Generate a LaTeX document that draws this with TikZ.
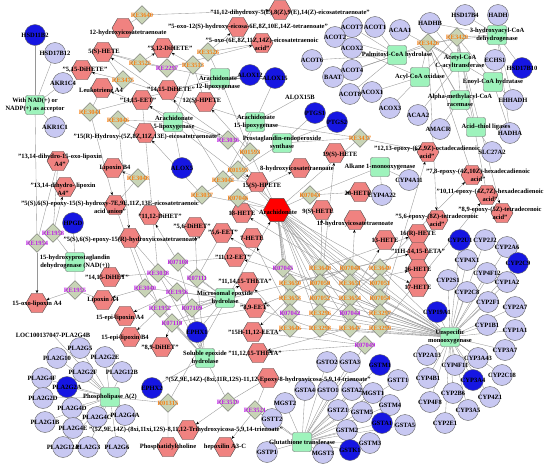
\documentclass[tikz,border=0pt]{standalone}
\usepackage{fontspec}
\setmainfont{Liberation Serif}
\usepackage{xcolor}
\usetikzlibrary{shapes,arrows.meta,backgrounds}

\definecolor{genefill}{RGB}{200,200,242}
\definecolor{hubfill}{RGB}{22,22,226}
\definecolor{enzfill}{RGB}{158,243,188}
\definecolor{cmpdfill}{RGB}{240,130,128}
\definecolor{arafill}{RGB}{255,0,0}
\definecolor{rxnfill}{RGB}{200,212,182}
\definecolor{rxnorange}{RGB}{245,128,20}
\definecolor{rxnpurple}{RGB}{190,30,230}
\definecolor{edgegray}{RGB}{150,150,150}

\begin{document}
\begin{tikzpicture}[
  x=1pt, y=-1pt,
  every node/.style={inner sep=0pt},
  gene/.style={circle, draw=gray!80!black, line width=0.4pt, fill=genefill, minimum size=21pt},
  hub/.style={gene, fill=hubfill},
  bare/.style={minimum size=4pt},
  enzyme/.style={rectangle, rounded corners=2pt, draw=gray!80!black, line width=0.4pt, fill=enzfill, minimum width=19pt, minimum height=19pt},
  cmpd/.style={regular polygon, regular polygon sides=6, draw=gray!60!black, line width=0.4pt, fill=cmpdfill, minimum size=22pt},
  hubcmpd/.style={cmpd, fill=arafill, minimum size=27pt},
  rxn/.style={diamond, draw=gray!80!black, line width=0.4pt, fill=rxnfill, minimum size=19pt},
  lbl/.style={font=\fontsize{6.5}{7.6}\selectfont\bfseries, align=center},
  olbl/.style={lbl, text=rxnorange},
  mlbl/.style={lbl, text=rxnpurple},
  link/.style={draw=edgegray, line width=0.35pt},
  arrow/.style={link, -{Stealth[length=3.2pt, width=2.6pt, black]}}
]
\useasboundingbox (0,0) rectangle (550,466);

% Genes (left and middle)
\node[hub]  (hsd11b2)  at (35,35) {};
\node[gene] (hsd17b12) at (55,53) {};
\node[gene] (akr1c4)   at (63,83) {};
\node[gene] (akr1c1)   at (55,127) {};
\node[hub]  (alox12)   at (250,75) {};
\node[hub]  (alox15)   at (275,78) {};
\node[bare] (alox15b)  at (300,97) {};
\node[hub]  (ptgs1)    at (315,113) {};
\node[hub]  (ptgs2)    at (337,122) {};
\node[hub]  (alox5)    at (182,168) {};
\node[hub]  (hpgd)     at (73,223) {};
\node[hub]  (ephx1)    at (197,332) {};
\node[hub]  (ephx2)    at (152,388) {};

% Genes (beta-oxidation, top right)
\node[gene] (acot7)   at (352,27) {};
\node[gene] (acot1)   at (375,27) {};
\node[gene] (acaa1)   at (400,30) {};
\node[gene] (acot2)   at (335,37) {};
\node[gene] (acox2)   at (352,48) {};
\node[gene] (acot6)   at (312,60) {};
\node[gene] (acot4)   at (352,70) {};
\node[gene] (baat)    at (333,77) {};
\node[gene] (acot8)   at (350,94) {};
\node[gene] (acox1)   at (372,92) {};
\node[gene] (acox3)   at (390,108) {};
\node[gene] (hadhb)   at (430,23) {};
\node[gene] (hsd17b4) at (465,15) {};
\node[gene] (hadh)    at (498,15) {};
\node[gene] (echs1)   at (495,60) {};
\node[hub]  (hsd17b10) at (522,68) {};
\node[gene] (ehhadh)  at (513,100) {};
\node[gene] (acaa2)   at (418,115) {};
\node[gene] (amacr)   at (440,129) {};
\node[gene] (hadha)   at (510,133) {};
\node[gene] (slc27a2) at (492,152) {};
\node[gene] (cyp4a11) at (409,180) {};
\node[gene] (cyp4a22) at (382,195) {};

% Genes (cytochrome P450)
\node[hub]  (cyp2u1)  at (460,240) {};
\node[gene] (cyp2j2)  at (485,240) {};
\node[gene] (cyp2a6)  at (507,247) {};
\node[gene] (cyp4x1)  at (467,260) {};
\node[hub]  (cyp2c9)  at (518,263) {};
\node[gene] (cyp4f12) at (487,273) {};
\node[gene] (cyp2s1)  at (448,280) {};
\node[gene] (cyp1a2)  at (507,282) {};
\node[gene] (cyp2c8)  at (467,292) {};
\node[gene] (cyp2f1)  at (488,302) {};
\node[gene] (cyp2a7)  at (515,307) {};
\node[hub]  (cyp19a1) at (437,312) {};
\node[gene] (cyp1b1)  at (487,325) {};
\node[gene] (cyp1a1)  at (515,330) {};
\node[gene] (cyp3a7)  at (505,350) {};
\node[gene] (cyp2a13) at (427,355) {};
\node[gene] (cyp3a43) at (478,358) {};
\node[gene] (cyp4f11) at (455,365) {};
\node[gene] (cyp4b1)  at (428,378) {};
\node[hub]  (cyp3a4)  at (473,380) {};
\node[gene] (cyp2c18) at (502,375) {};
\node[gene] (cyp2b6)  at (453,393) {};
\node[gene] (cyp4z1)  at (490,397) {};
\node[gene] (cyp4f8)  at (430,402) {};
\node[gene] (cyp3a5)  at (468,410) {};
\node[gene] (cyp2e1)  at (445,423) {};

% Genes (glutathione transferases)
\node[gene] (gsto2) at (327,362) {};
\node[gene] (gsta3) at (350,362) {};
\node[hub]  (gstm1) at (380,365) {};
\node[gene] (gstt1) at (398,380) {};
\node[gene] (gsta4) at (305,390) {};
\node[gene] (gsto1) at (328,390) {};
\node[gene] (gsta2) at (352,390) {};
\node[gene] (mgst1) at (373,393) {};
\node[gene] (mgst2) at (285,403) {};
\node[gene] (gstm4) at (390,405) {};
\node[gene] (gstz1) at (338,410) {};
\node[gene] (gstm5) at (362,412) {};
\node[gene] (gstt2) at (272,419) {};
\node[hub]  (gsta1) at (382,423) {};
\node[gene] (gsta5) at (405,425) {};
\node[gene] (gstm2) at (347,430) {};
\node[gene] (gstm3) at (370,443) {};
\node[gene] (mgst3) at (323,453) {};
\node[hub]  (gstk1) at (350,450) {};
\node[gene] (gstp1) at (267,452) {};

% Genes (phospholipases)
\node[bare] (loc)      at (53,335) {};
\node[gene] (pla2g5)   at (80,348) {};
\node[gene] (pla2g10)  at (57,358) {};
\node[gene] (pla2g2e)  at (105,357) {};
\node[gene] (pla2g4f)  at (42,378) {};
\node[gene] (pla2g2f)  at (83,372) {};
\node[gene] (pla2g12b) at (122,372) {};
\node[hub]  (pla2g2a)  at (67,387) {};
\node[gene] (pla2g2d)  at (43,398) {};
\node[gene] (pla2g4d)  at (72,408) {};
\node[gene] (pla2g4c)  at (97,417) {};
\node[gene] (pla2g4a)  at (125,415) {};
\node[gene] (pla2g1b)  at (45,422) {};
\node[gene] (pla2g4e)  at (73,428) {};
\node[gene] (pla2g12a) at (63,447) {};
\node[gene] (pla2g3)   at (88,447) {};
\node[gene] (pla2g6)   at (117,447) {};

% Enzymes
\node[enzyme] (nadp)   at (35,105) {};
\node[enzyme] (lox12)  at (220,78) {};
\node[enzyme] (lox5)   at (173,122) {};
\node[enzyme] (lox15)  at (255,122) {};
\node[enzyme] (pges)   at (282,143) {};
\node[enzyme] (palm)   at (397,55) {};
\node[enzyme] (acox)   at (420,77) {};
\node[enzyme] (acat)   at (460,62) {};
\node[enzyme] (hadhe)  at (497,35) {};
\node[enzyme] (echyd)  at (493,82) {};
\node[enzyme] (racem)  at (460,100) {};
\node[enzyme] (ligase) at (476,127) {};
\node[enzyme] (alkmo)  at (380,167) {};
\node[enzyme] (pgdh)   at (75,262) {};
\node[enzyme] (meh)    at (225,298) {};
\node[enzyme] (seh)    at (205,358) {};
\node[enzyme] (pla)    at (110,397) {};
\node[enzyme] (gst)    at (302,442) {};
\node[enzyme] (upo)    at (450,337) {};

% Compounds
\node[cmpd] (hx12)       at (123,28) {};
\node[cmpd] (dhet1112x)  at (280,10) {};
\node[cmpd] (oxo12)      at (238,27) {};
\node[cmpd] (oxoete)     at (262,43) {};
\node[cmpd] (hete5)      at (103,52) {};
\node[cmpd] (dihete515)  at (82,70) {};
\node[cmpd] (dihete512)  at (163,48) {};
\node[cmpd] (lta4)       at (102,88) {};
\node[cmpd] (dihete1415) at (168,90) {};
\node[cmpd] (hpete12)    at (205,102) {};
\node[cmpd] (eet1415)    at (142,100) {};
\node[cmpd] (hete15r)    at (145,133) {};
\node[cmpd] (dhlxa4oxo)  at (58,161) {};
\node[cmpd] (lxb4)       at (113,168) {};
\node[cmpd] (dhlxa4)     at (65,187) {};
\node[cmpd] (epox15s)    at (115,205) {};
\node[cmpd] (epox15r)    at (130,238) {};
\node[cmpd] (dihet1415)  at (110,277) {};
\node[cmpd] (lxa4)       at (103,300) {};
\node[cmpd] (oxolxa4)    at (37,303) {};
\node[cmpd] (epilxa4)    at (125,316) {};
\node[cmpd] (epilxb4)    at (130,337) {};
\node[cmpd] (dihet89)    at (162,347) {};
\node[cmpd] (dihet1112)  at (150,215) {};
\node[cmpd] (dihet56)    at (195,227) {};
\node[cmpd] (hpete15)    at (257,182) {};
\node[cmpd] (hete8)      at (300,168) {};
\node[hubcmpd] (ara)     at (277,210) {};
\node[cmpd] (hete18)     at (242,213) {};
\node[cmpd] (eet56)      at (222,233) {};
\node[cmpd] (hete7)      at (252,238) {};
\node[cmpd] (eet1112)    at (235,257) {};
\node[cmpd] (theta111415) at (248,282) {};
\node[cmpd] (eet89)      at (255,308) {};
\node[cmpd] (eeta1512)   at (253,332) {};
\node[cmpd] (theta111215) at (258,353) {};
\node[cmpd] (epoxyhx)    at (268,378) {};
\node[cmpd] (trihx)      at (188,430) {};
\node[cmpd] (pc)         at (168,447) {};
\node[cmpd] (hepox)      at (225,447) {};
\node[cmpd] (hete19)     at (335,153) {};
\node[cmpd] (hete20)     at (360,192) {};
\node[cmpd] (hete9)      at (322,210) {};
\node[cmpd] (hete11)     at (355,220) {};
\node[cmpd] (hete13)     at (385,240) {};
\node[cmpd] (hete16r)    at (418,234) {};
\node[cmpd] (eeta1415)   at (418,252) {};
\node[cmpd] (hete16)     at (418,269) {};
\node[cmpd] (hete17)     at (418,287) {};
\node[cmpd] (epoc1213)   at (428,152) {};
\node[cmpd] (epo78)      at (472,175) {};
\node[cmpd] (epo1011)    at (487,195) {};
\node[cmpd] (epo89)      at (502,213) {};
\node[cmpd] (epo56)      at (437,220) {};

% Reactions
\node[rxn] (re3640) at (142,15) {};
\node[rxn] (re3526) at (208,52) {};
\node[rxn] (re3525) at (140,63) {};
\node[rxn] (re2297) at (167,68) {};
\node[rxn] (re3513) at (193,65) {};
\node[rxn] (re3475) at (123,80) {};
\node[rxn] (re3041) at (90,112) {};
\node[rxn] (re3046) at (118,120) {};
\node[rxn] (re3036) at (228,140) {};
\node[rxn] (r01593) at (250,152) {};
\node[rxn] (r01595) at (238,170) {};
\node[rxn] (re3048) at (138,178) {};
\node[rxn] (re3042) at (223,180) {};
\node[rxn] (re3037) at (202,195) {};
\node[rxn] (r07046) at (238,198) {};
\node[rxn] (r07043) at (310,195) {};
\node[rxn] (re3437) at (360,138) {};
\node[rxn] (re3429) at (457,37) {};
\node[rxn] (re3426) at (428,43) {};
\node[rxn] (re1958) at (53,233) {};
\node[rxn] (re1954) at (37,243) {};
\node[rxn] (re1955) at (75,290) {};
\node[rxn] (r07108) at (178,262) {};
\node[rxn] (re3038) at (158,273) {};
\node[rxn] (r07111) at (197,278) {};
\node[rxn] (re3040) at (145,288) {};
\node[rxn] (re1956) at (177,292) {};
\node[rxn] (re1952) at (160,308) {};
\node[rxn] (r07109) at (192,308) {};
\node[rxn] (r07110) at (172,323) {};
\node[rxn] (r01315) at (168,403) {};
\node[rxn] (re3519) at (228,402) {};
\node[rxn] (re3521) at (255,410) {};
\node[rxn] (r07049) at (365,345) {};
\node[rxn] (r07045) at (283,268) {};
\node[rxn] (re3648) at (320,268) {};
\node[rxn] (r07048) at (350,268) {};
\node[rxn] (re3649) at (380,268) {};
\node[rxn] (re3650) at (290,283) {};
\node[rxn] (r07050) at (320,283) {};
\node[rxn] (re3651) at (350,283) {};
\node[rxn] (r07051) at (380,283) {};
\node[rxn] (re3653) at (290,298) {};
\node[rxn] (r07052) at (320,298) {};
\node[rxn] (re3654) at (350,298) {};
\node[rxn] (r07054) at (380,298) {};
\node[rxn] (r07042) at (290,313) {};
\node[rxn] (re3296) at (320,313) {};
\node[rxn] (r07044) at (350,313) {};
\node[rxn] (re3297) at (380,313) {};
\node[rxn] (re3646) at (290,328) {};
\node[rxn] (re3298) at (320,328) {};
\node[rxn] (re3647) at (350,328) {};
\node[rxn] (re3299) at (380,328) {};

\begin{scope}[on background layer]
% genes to enzymes
\path[link] (nadp) edge (hsd11b2) edge (hsd17b12) edge (akr1c4) edge (akr1c1);
\path[link] (lox12) edge (alox12) edge (alox15);
\path[link] (lox15) edge (alox15) edge (alox15b);
\path[link] (lox5) edge (alox5);
\path[link] (pges) edge (ptgs1) edge (ptgs2);
\path[link] (pgdh) edge (hpgd);
\path[link] (meh) edge (ephx1);
\path[link] (seh) edge (ephx2);
\path[link] (palm) edge (acot7) edge (acot1) edge (acot2) edge (acot6) edge (acot4) edge (baat) edge (acot8);
\path[link] (acox) edge (acox1) edge (acox2) edge (acox3);
\path[link] (acat) edge (acaa1) edge (acaa2) edge (hadhb);
\path[link] (hadhe) edge (hadh) edge (hsd17b4) edge (hsd17b10) edge (ehhadh) edge (hadha) edge (hadhb);
\path[link] (echyd) edge (echs1) edge (ehhadh) edge (hadha);
\path[link] (racem) edge (amacr);
\path[link] (ligase) edge (slc27a2);
\path[link] (alkmo) edge (cyp4a11) edge (cyp4a22);
\path[link] (pla) edge (loc) edge (pla2g5) edge (pla2g10) edge (pla2g2e) edge (pla2g4f) edge (pla2g2f) edge (pla2g12b) edge (pla2g2a) edge (pla2g2d) edge (pla2g4d) edge (pla2g4c) edge (pla2g4a) edge (pla2g1b) edge (pla2g4e) edge (pla2g12a) edge (pla2g3) edge (pla2g6);
\path[link] (gst) edge (gsto2) edge (gsta3) edge (gstm1) edge (gstt1) edge (gsta4) edge (gsto1) edge (gsta2) edge (mgst1) edge (mgst2) edge (gstm4) edge (gstz1) edge (gstm5) edge (gstt2) edge (gsta1) edge (gsta5) edge (gstm2) edge (gstm3) edge (mgst3) edge (gstk1) edge (gstp1);
\path[link] (upo) edge (cyp2u1) edge (cyp2j2) edge (cyp2a6) edge (cyp4x1) edge (cyp2c9) edge (cyp4f12) edge (cyp2s1) edge (cyp1a2) edge (cyp2c8) edge (cyp2f1) edge (cyp2a7) edge (cyp19a1) edge (cyp1b1) edge (cyp1a1) edge (cyp3a7) edge (cyp2a13) edge (cyp3a43) edge (cyp4f11) edge (cyp4b1) edge (cyp3a4) edge (cyp2c18) edge (cyp2b6) edge (cyp4z1) edge (cyp4f8) edge (cyp3a5) edge (cyp2e1);

% lipoxygenase reactions
\draw[link] (hx12) -- (re3640);
\draw[arrow] (re3640) -- (dhet1112x);
\draw[link] (oxoete) -- (re3526) -- (lox12);
\draw[arrow] (re3526) -- (oxo12);
\draw[link] (hete5) -- (re3525) -- (lox12);
\draw[arrow] (re3525) -- (dihete512);
\draw[link] (hete5) -- (re2297);
\draw[arrow] (re2297) -- (oxoete);
\draw[link] (hpete12) -- (re3513) -- (lox5);
\draw[arrow] (re3513) -- (dihete512);
\draw[link] (hete5) -- (re3475) -- (lox15);
\draw[arrow] (re3475) -- (dihete515);
\draw[link] (lta4) -- (re3041) -- (lox12);
\draw[arrow] (re3041) -- (epox15s);
\draw[link] (hete15r) -- (re3046) -- (lox5);
\draw[arrow] (re3046) -- (epox15r);
\draw[link] (ara) -- (re3036) -- (lox5);
\draw[arrow] (re3036) -- (hete5);
\draw[arrow] (re3036) -- (lta4);
\draw[link] (ara) -- (r01593) -- (lox12);
\draw[arrow] (r01593) -- (hpete12);
\draw[link] (ara) -- (r01595) -- (lox15);
\draw[arrow] (r01595) -- (hpete15);
\draw[link] (hpete15) -- (re3042) -- (lox15);
\draw[arrow] (re3042) -- (dihete1415);
\draw[link] (ara) -- (re3037) -- (pges);
\draw[arrow] (re3037) -- (hete15r);
\draw[link] (epox15s) -- (re3048);
\draw[arrow] (re3048) -- (lxb4);
\draw[link] (ara) -- (r07046) -- (upo);
\draw[arrow] (r07046) -- (hete8);
\draw[link] (ara) -- (r07043) -- (alkmo);
\draw[arrow] (r07043) -- (hete20);
\draw[link] (ara) -- (re3437) -- (lox15);
\draw[link] (pges) -- (re3437);
\draw[arrow] (re3437) -- (epoc1213);

% beta-oxidation of the epoxides
\draw[link] (epo78) -- (re3426);
\draw[arrow] (re3426) -- (epo56);
\draw[link] (epo1011) -- (re3429);
\draw[arrow] (re3429) -- (epo89);
\path[link] (re3426) edge (palm) edge (acox) edge (acat) edge (hadhe) edge (echyd) edge (racem) edge (ligase);
\path[link] (re3429) edge (palm) edge (acox) edge (acat) edge (hadhe) edge (echyd) edge (racem) edge (ligase);

% lipoxin dehydrogenation
\draw[link] (lxa4) -- (re1955) -- (pgdh);
\draw[arrow] (re1955) -- (oxolxa4);
\draw[link] (dhlxa4oxo) -- (re1954) -- (nadp);
\draw[arrow] (re1954) -- (oxolxa4);
\draw[link] (dhlxa4oxo) -- (re1958) -- (pgdh);
\draw[arrow] (re1958) -- (dhlxa4);

% epoxide hydrolase reactions
\draw[link] (eet56) -- (r07111);
\draw[arrow] (r07111) -- (dihet56);
\draw[link] (eet1112) -- (r07108);
\draw[arrow] (r07108) -- (dihet1112);
\draw[link] (eet1415) -- (re3038);
\draw[arrow] (re3038) -- (dihet1415);
\draw[link] (eet89) -- (r07110);
\draw[arrow] (r07110) -- (dihet89);
\draw[link] (epox15s) -- (re3040);
\draw[arrow] (re3040) -- (lxa4);
\draw[link] (epox15r) -- (re1956);
\draw[arrow] (re1956) -- (epilxa4);
\draw[link] (epox15r) -- (re1952);
\draw[arrow] (re1952) -- (epilxb4);
\draw[link] (eeta1415) -- (r07109);
\draw[arrow] (r07109) -- (theta111415);
\path[link] (meh) edge (r07111) edge (r07108) edge (re3038) edge (r07110) edge (re3040) edge (re1956) edge (re1952) edge (r07109) edge (r07049);
\path[link] (seh) edge (r07111) edge (r07108) edge (re3038) edge (r07110) edge (re3040) edge (re1956) edge (re1952) edge (r07109) edge (re3519);
\draw[link] (eeta1512) -- (r07049) -- (gst);
\draw[arrow] (r07049) -- (theta111215);
\draw[link] (epoxyhx) -- (re3519);
\draw[arrow] (re3519) -- (trihx);
\draw[link] (epoxyhx) -- (re3521) -- (gst);
\draw[arrow] (re3521) -- (hepox);
\draw[link] (pc) -- (r01315) -- (pla);
\draw[arrow] (r01315) -- (ara);

% cytochrome P450 reactions of arachidonate
\path[link] (ara) edge (r07045) edge (re3648) edge (r07048) edge (re3649) edge (re3650) edge (r07050) edge (re3651) edge (r07051) edge (re3653) edge (r07052) edge (re3654) edge (r07054) edge (r07042) edge (re3296) edge (r07044) edge (re3297) edge (re3646) edge (re3298) edge (re3647) edge (re3299);
\path[link] (upo) edge (r07045) edge (re3648) edge (r07048) edge (re3649) edge (re3650) edge (r07050) edge (re3651) edge (r07051) edge (re3653) edge (r07052) edge (re3654) edge (r07054) edge (r07042) edge (re3296) edge (r07044) edge (re3297) edge (re3646) edge (re3298) edge (re3647) edge (re3299);
\draw[arrow] (r07045) -- (eet56);
\draw[arrow] (re3648) -- (hete16r);
\draw[arrow] (r07048) -- (eet89);
\draw[arrow] (re3649) -- (hete17);
\draw[arrow] (re3650) -- (eeta1415);
\draw[arrow] (r07050) -- (eet1112);
\draw[arrow] (re3651) -- (hete16);
\draw[arrow] (r07051) -- (eet1415);
\draw[arrow] (re3653) -- (eeta1512);
\draw[arrow] (r07052) -- (hete19);
\draw[arrow] (re3654) -- (hete13);
\draw[arrow] (r07054) -- (hete18);
\draw[arrow] (r07042) -- (hete7);
\draw[arrow] (re3296) -- (hete9);
\draw[arrow] (r07044) -- (hete11);
\draw[arrow] (re3297) -- (epoc1213);
\draw[arrow] (re3646) -- (theta111415);
\draw[arrow] (re3298) -- (epo78);
\draw[arrow] (re3647) -- (theta111215);
\draw[arrow] (re3299) -- (epo1011);
\end{scope}

% Labels: genes
\node[lbl] (t-hsd11b2) at (hsd11b2) {HSD11B2};
\node[lbl] (t-hsd17b12) at (hsd17b12) {HSD17B12};
\node[lbl] (t-akr1c4) at (akr1c4) {AKR1C4};
\node[lbl] (t-akr1c1) at (akr1c1) {AKR1C1};
\node[lbl] (t-alox12) at (alox12) {ALOX12};
\node[lbl] (t-alox15) at (alox15) {ALOX15};
\node[lbl] (t-alox15b) at (alox15b) {ALOX15B};
\node[lbl] (t-ptgs1) at (ptgs1) {PTGS1};
\node[lbl] (t-ptgs2) at (ptgs2) {PTGS2};
\node[lbl] (t-alox5) at (alox5) {ALOX5};
\node[lbl] (t-hpgd) at (hpgd) {HPGD};
\node[lbl] (t-ephx1) at (ephx1) {EPHX1};
\node[lbl] (t-ephx2) at (ephx2) {EPHX2};
\node[lbl] (t-acot7) at (acot7) {ACOT7};
\node[lbl] (t-acot1) at (acot1) {ACOT1};
\node[lbl] (t-acaa1) at (acaa1) {ACAA1};
\node[lbl] (t-acot2) at (acot2) {ACOT2};
\node[lbl] (t-acox2) at (acox2) {ACOX2};
\node[lbl] (t-acot6) at (acot6) {ACOT6};
\node[lbl] (t-acot4) at (acot4) {ACOT4};
\node[lbl] (t-baat) at (baat) {BAAT};
\node[lbl] (t-acot8) at (acot8) {ACOT8};
\node[lbl] (t-acox1) at (acox1) {ACOX1};
\node[lbl] (t-acox3) at (acox3) {ACOX3};
\node[lbl] (t-hadhb) at (hadhb) {HADHB};
\node[lbl] (t-hsd17b4) at (hsd17b4) {HSD17B4};
\node[lbl] (t-hadh) at (hadh) {HADH};
\node[lbl] (t-echs1) at (echs1) {ECHS1};
\node[lbl] (t-hsd17b10) at (hsd17b10) {HSD17B10};
\node[lbl] (t-ehhadh) at (ehhadh) {EHHADH};
\node[lbl] (t-acaa2) at (acaa2) {ACAA2};
\node[lbl] (t-amacr) at (438,129) {AMACR};
\node[lbl] (t-hadha) at (hadha) {HADHA};
\node[lbl] (t-slc27a2) at (slc27a2) {SLC27A2};
\node[lbl] (t-cyp4a11) at (cyp4a11) {CYP4A11};
\node[lbl] (t-cyp4a22) at (cyp4a22) {CYP4A22};
\node[lbl] (t-cyp2u1) at (cyp2u1) {CYP2U1};
\node[lbl] (t-cyp2j2) at (cyp2j2) {CYP2J2};
\node[lbl] (t-cyp2a6) at (cyp2a6) {CYP2A6};
\node[lbl] (t-cyp4x1) at (cyp4x1) {CYP4X1};
\node[lbl] (t-cyp2c9) at (cyp2c9) {CYP2C9};
\node[lbl] (t-cyp4f12) at (cyp4f12) {CYP4F12};
\node[lbl] (t-cyp2s1) at (cyp2s1) {CYP2S1};
\node[lbl] (t-cyp1a2) at (cyp1a2) {CYP1A2};
\node[lbl] (t-cyp2c8) at (cyp2c8) {CYP2C8};
\node[lbl] (t-cyp2f1) at (cyp2f1) {CYP2F1};
\node[lbl] (t-cyp2a7) at (cyp2a7) {CYP2A7};
\node[lbl] (t-cyp19a1) at (cyp19a1) {CYP19A1};
\node[lbl] (t-cyp1b1) at (cyp1b1) {CYP1B1};
\node[lbl] (t-cyp1a1) at (cyp1a1) {CYP1A1};
\node[lbl] (t-cyp3a7) at (cyp3a7) {CYP3A7};
\node[lbl] (t-cyp2a13) at (cyp2a13) {CYP2A13};
\node[lbl] (t-cyp3a43) at (cyp3a43) {CYP3A43};
\node[lbl] (t-cyp4f11) at (cyp4f11) {CYP4F11};
\node[lbl] (t-cyp4b1) at (cyp4b1) {CYP4B1};
\node[lbl] (t-cyp3a4) at (cyp3a4) {CYP3A4};
\node[lbl] (t-cyp2c18) at (cyp2c18) {CYP2C18};
\node[lbl] (t-cyp2b6) at (cyp2b6) {CYP2B6};
\node[lbl] (t-cyp4z1) at (cyp4z1) {CYP4Z1};
\node[lbl] (t-cyp4f8) at (cyp4f8) {CYP4F8};
\node[lbl] (t-cyp3a5) at (cyp3a5) {CYP3A5};
\node[lbl] (t-cyp2e1) at (cyp2e1) {CYP2E1};
\node[lbl] (t-gsto2) at (gsto2) {GSTO2};
\node[lbl] (t-gsta3) at (gsta3) {GSTA3};
\node[lbl] (t-gstm1) at (gstm1) {GSTM1};
\node[lbl] (t-gstt1) at (gstt1) {GSTT1};
\node[lbl] (t-gsta4) at (gsta4) {GSTA4};
\node[lbl] (t-gsto1) at (gsto1) {GSTO1};
\node[lbl] (t-gsta2) at (gsta2) {GSTA2};
\node[lbl] (t-mgst1) at (mgst1) {MGST1};
\node[lbl] (t-mgst2) at (mgst2) {MGST2};
\node[lbl] (t-gstm4) at (gstm4) {GSTM4};
\node[lbl] (t-gstz1) at (gstz1) {GSTZ1};
\node[lbl] (t-gstm5) at (gstm5) {GSTM5};
\node[lbl] (t-gstt2) at (gstt2) {GSTT2};
\node[lbl] (t-gsta1) at (gsta1) {GSTA1};
\node[lbl] (t-gsta5) at (gsta5) {GSTA5};
\node[lbl] (t-gstm2) at (gstm2) {GSTM2};
\node[lbl] (t-gstm3) at (gstm3) {GSTM3};
\node[lbl] (t-mgst3) at (mgst3) {MGST3};
\node[lbl] (t-gstk1) at (gstk1) {GSTK1};
\node[lbl] (t-gstp1) at (gstp1) {GSTP1};
\node[lbl] (t-loc) at (loc) {LOC100137047-PLA2G4B};
\node[lbl] (t-pla2g5) at (pla2g5) {PLA2G5};
\node[lbl] (t-pla2g10) at (pla2g10) {PLA2G10};
\node[lbl] (t-pla2g2e) at (pla2g2e) {PLA2G2E};
\node[lbl] (t-pla2g4f) at (pla2g4f) {PLA2G4F};
\node[lbl] (t-pla2g2f) at (pla2g2f) {PLA2G2F};
\node[lbl] (t-pla2g12b) at (pla2g12b) {PLA2G12B};
\node[lbl] (t-pla2g2a) at (pla2g2a) {PLA2G2A};
\node[lbl] (t-pla2g2d) at (pla2g2d) {PLA2G2D};
\node[lbl] (t-pla2g4d) at (pla2g4d) {PLA2G4D};
\node[lbl] (t-pla2g4c) at (pla2g4c) {PLA2G4C};
\node[lbl] (t-pla2g4a) at (pla2g4a) {PLA2G4A};
\node[lbl] (t-pla2g1b) at (pla2g1b) {PLA2G1B};
\node[lbl] (t-pla2g4e) at (pla2g4e) {PLA2G4E};
\node[lbl] (t-pla2g12a) at (pla2g12a) {PLA2G12A};
\node[lbl] (t-pla2g3) at (pla2g3) {PLA2G3};
\node[lbl] (t-pla2g6) at (pla2g6) {PLA2G6};

% Labels: enzymes
\node[lbl] (t-nadp) at (nadp) {With NAD(+) or\\NADP(+) as acceptor};
\node[lbl] (t-lox12) at (218,83) {Arachidonate\\12-lipoxygenase};
\node[lbl] (t-lox5) at (174,123) {Arachidonate\\5-lipoxygenase};
\node[lbl] (t-lox15) at (256,122) {Arachidonate\\15-lipoxygenase};
\node[lbl] (t-pges) at (pges) {Prostaglandin-endoperoxide\\synthase};
\node[lbl] (t-palm) at (palm) {Palmitoyl-CoA hydrolase};
\node[lbl] (t-acox) at (acox) {Acyl-CoA oxidase};
\node[lbl] (t-acat) at (acat) {Acetyl-CoA\\C-acyltransferase};
\node[lbl] (t-hadhe) at (hadhe) {3-hydroxyacyl-CoA\\dehydrogenase};
\node[lbl] (t-echyd) at (echyd) {Enoyl-CoA hydratase};
\node[lbl] (t-racem) at (racem) {Alpha-methylacyl-CoA\\racemase};
\node[lbl] (t-ligase) at (486,127) {Acid--thiol ligases};
\node[lbl] (t-alkmo) at (alkmo) {Alkane 1-monooxygenase};
\node[lbl] (t-pgdh) at (pgdh) {15-hydroxyprostaglandin\\dehydrogenase (NAD(+))};
\node[lbl] (t-meh) at (meh) {Microsomal epoxide\\hydrolase};
\node[lbl] (t-seh) at (seh) {Soluble epoxide\\hydrolase};
\node[lbl] (t-pla) at (pla) {Phospholipase A(2)};
\node[lbl] (t-gst) at (gst) {Glutathione transferase};
\node[lbl] (t-upo) at (upo) {Unspecific\\monooxygenase};

% Labels: compounds
\node[lbl] (t-hx12) at (128,33) {12-hydroxyicosatetraenoate};
\node[lbl] (t-dhet1112x) at (290,13) {"11,12-dihydroxy-5(E),8(Z),9(E),14(Z)-eicosatetraenoate"};
\node[lbl] (t-oxo12) at (248,27) {"5-oxo-12(S)-hydroxy-eicosa-6E,8Z,10E,14Z-tetraenoate"};
\node[lbl] (t-oxoete) at (262,44) {"5-oxo-(6E,8Z,11Z,14Z)-eicosatetraenoic\\acid"};
\node[lbl] (t-hete5) at (104,52) {5(S)-HETE};
\node[lbl] (t-dihete515) at (85,70) {"5,15-DiHETE"};
\node[lbl] (t-dihete512) at (170,49) {"5,12-DiHETE"};
\node[lbl] (t-lta4) at (101,90) {Leukotriene A4};
\node[lbl] (t-dihete1415) at (171,90) {"14,15-DiHETE"};
\node[lbl] (t-hpete12) at (202,101) {12(S)-HPETE};
\node[lbl] (t-eet1415) at (138,101) {"14,15-EET"};
\node[lbl] (t-hete15r) at (147,137) {"15(R)-Hydroxy-(5Z,8Z,11Z,13E)-eicosatetraenoate"};
\node[lbl] (t-dhlxa4oxo) at (60,160) {"13,14-dihydro-15-oxo-lipoxin\\A4"};
\node[lbl] (t-lxb4) at (115,168) {Lipoxin B4};
\node[lbl] (t-dhlxa4) at (63,189) {"13,14-dihydro- lipoxin\\A4"};
\node[lbl] (t-epox15s) at (110,207) {"5(S),6(S)-epoxy-15(S)-hydroxy-7E,9E,11Z,13E-eicosatetraenoic\\acid anion"};
\node[lbl] (t-epox15r) at (132,240) {"5(S),6(S)-epoxy-15(R)-hydroxyicosatetraenoate"};
\node[lbl] (t-dihet1415) at (107,278) {"14,15-DiHET"};
\node[lbl] (t-lxa4) at (lxa4) {Lipoxin A4};
\node[lbl] (t-oxolxa4) at (37,304) {15-oxo-lipoxin A4};
\node[lbl] (t-epilxa4) at (120,318) {15-epi-lipoxin A4};
\node[lbl] (t-epilxb4) at (125,338) {15-epi-lipoxin B4};
\node[lbl] (t-dihet89) at (160,348) {"8,9-DiHET"};
\node[lbl] (t-dihet1112) at (160,217) {"11,12-DiHET"};
\node[lbl] (t-dihet56) at (192,227) {"5,6-DiHET"};
\node[lbl] (t-hpete15) at (262,186) {15(S)-HPETE};
\node[lbl] (t-hete8) at (297,169) {8-hydroxyicosatetraenoate};
\node[lbl] (t-ara) at (278,212) {Arachidonate};
\node[lbl] (t-hete18) at (hete18) {18-HETE};
\node[lbl] (t-eet56) at (223,233) {"5,6-EET"};
\node[lbl] (t-hete7) at (hete7) {7-HETE};
\node[lbl] (t-eet1112) at (233,258) {"11,12-EET"};
\node[lbl] (t-theta111415) at (245,282) {"11,14,15-THETA"};
\node[lbl] (t-eet89) at (eet89) {"8,9-EET"};
\node[lbl] (t-eeta1512) at (255,333) {"15H-11,12-EETA"};
\node[lbl] (t-theta111215) at (255,354) {"11,12,15-THETA"};
\node[lbl] (t-epoxyhx) at (268,380) {"(5Z,9E,14Z)-(8xi,11R,12S)-11,12-Epoxy-8-hydroxyicosa-5,9,14-trienoate"};
\node[lbl] (t-trihx) at (186,430) {"(5Z,9E,14Z)-(8xi,11xi,12S)-8,11,12-Trihydroxyicosa-5,9,14-trienoate"};
\node[lbl] (t-pc) at (pc) {Phosphatidylcholine};
\node[lbl] (t-hepox) at (hepox) {hepoxilin A3-C};
\node[lbl] (t-hete19) at (340,155) {19(S)-HETE};
\node[lbl] (t-hete20) at (358,193) {20-HETE};
\node[lbl] (t-hete9) at (318,212) {9(S)-HETE};
\node[lbl] (t-hete11) at (355,224) {11-hydroxyicosatetraenoate};
\node[lbl] (t-hete13) at (hete13) {13-HETE};
\node[lbl] (t-hete16r) at (hete16r) {16(R)-HETE};
\node[lbl] (t-eeta1415) at (eeta1415) {"11H-14,15-EETA"};
\node[lbl] (t-hete16) at (hete16) {16-HETE};
\node[lbl] (t-hete17) at (hete17) {17-HETE};
\node[lbl] (t-epoc1213) at (427,152) {"12,13-epoxy-(6Z,9Z)-octadecadienoic\\acid"};
\node[lbl] (t-epo78) at (478,175) {"7,8-epoxy-(4Z,10Z)-hexadecadienoic\\acid"};
\node[lbl] (t-epo1011) at (490,195) {"10,11-epoxy-(4Z,7Z)-hexadecadienoic\\acid"};
\node[lbl] (t-epo89) at (500,213) {"8,9-epoxy-(5Z)-tetradecenoic\\acid"};
\node[lbl] (t-epo56) at (437,220) {"5,6-epoxy-(8Z)-tetradecenoic\\acid"};

% Labels: reactions
\node[olbl] (t-re3640) at (re3640) {RE3640};
\node[olbl] (t-re3526) at (re3526) {RE3526};
\node[olbl] (t-re3525) at (re3525) {RE3525};
\node[mlbl] (t-re2297) at (re2297) {RE2297};
\node[olbl] (t-re3513) at (re3513) {RE3513};
\node[olbl] (t-re3475) at (re3475) {RE3475};
\node[olbl] (t-re3041) at (re3041) {RE3041};
\node[olbl] (t-re3046) at (re3046) {RE3046};
\node[mlbl] (t-re3036) at (re3036) {RE3036};
\node[olbl] (t-r01593) at (r01593) {R01593};
\node[olbl] (t-r01595) at (r01595) {R01595};
\node[olbl] (t-re3048) at (re3048) {RE3048};
\node[olbl] (t-re3042) at (re3042) {RE3042};
\node[olbl] (t-re3037) at (re3037) {RE3037};
\node[olbl] (t-r07046) at (r07046) {R07046};
\node[olbl] (t-r07043) at (r07043) {R07043};
\node[olbl] (t-re3437) at (re3437) {RE3437};
\node[olbl] (t-re3429) at (re3429) {RE3429};
\node[olbl] (t-re3426) at (re3426) {RE3426};
\node[mlbl] (t-re1958) at (re1958) {RE1958};
\node[mlbl] (t-re1954) at (re1954) {RE1954};
\node[mlbl] (t-re1955) at (re1955) {RE1955};
\node[mlbl] (t-r07108) at (r07108) {R07108};
\node[mlbl] (t-re3038) at (re3038) {RE3038};
\node[mlbl] (t-r07111) at (r07111) {R07111};
\node[mlbl] (t-re3040) at (re3040) {RE3040};
\node[mlbl] (t-re1956) at (re1956) {RE1956};
\node[mlbl] (t-re1952) at (re1952) {RE1952};
\node[mlbl] (t-r07109) at (r07109) {R07109};
\node[mlbl] (t-r07110) at (r07110) {R07110};
\node[olbl] (t-r01315) at (r01315) {R01315};
\node[mlbl] (t-re3519) at (re3519) {RE3519};
\node[mlbl] (t-re3521) at (re3521) {RE3521};
\node[mlbl] (t-r07049) at (r07049) {R07049};
\node[mlbl] (t-r07045) at (r07045) {R07045};
\node[olbl] (t-re3648) at (re3648) {RE3648};
\node[olbl] (t-r07048) at (r07048) {R07048};
\node[olbl] (t-re3649) at (re3649) {RE3649};
\node[olbl] (t-re3650) at (re3650) {RE3650};
\node[olbl] (t-r07050) at (r07050) {R07050};
\node[olbl] (t-re3651) at (re3651) {RE3651};
\node[olbl] (t-r07051) at (r07051) {R07051};
\node[olbl] (t-re3653) at (re3653) {RE3653};
\node[olbl] (t-r07052) at (r07052) {R07052};
\node[olbl] (t-re3654) at (re3654) {RE3654};
\node[olbl] (t-r07054) at (r07054) {R07054};
\node[mlbl] (t-r07042) at (r07042) {R07042};
\node[olbl] (t-re3296) at (re3296) {RE3296};
\node[mlbl] (t-r07044) at (r07044) {R07044};
\node[olbl] (t-re3297) at (re3297) {RE3297};
\node[olbl] (t-re3646) at (re3646) {RE3646};
\node[olbl] (t-re3298) at (re3298) {RE3298};
\node[olbl] (t-re3647) at (re3647) {RE3647};
\node[olbl] (t-re3299) at (re3299) {RE3299};

\end{tikzpicture}
\end{document}
